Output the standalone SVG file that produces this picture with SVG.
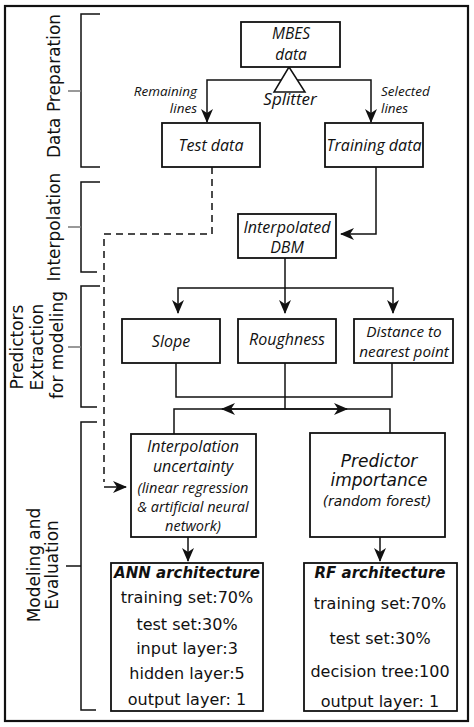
<svg xmlns="http://www.w3.org/2000/svg" width="474" height="727" viewBox="0 0 474 727">
<style>
.box{fill:#fff;stroke:#111;stroke-width:1.8}
.ln{fill:none;stroke:#111;stroke-width:1.5}
.dash{fill:none;stroke:#111;stroke-width:1.5;stroke-dasharray:7,5}
.br{fill:none;stroke:#111;stroke-width:1.5}
.tick{fill:none;stroke:#777;stroke-width:1.5}
.it{font-family:"Open Sans","DejaVu Sans",sans-serif;font-style:italic;fill:#111;text-anchor:middle}
.ob{font-family:"DejaVu Sans","Verdana",sans-serif;font-style:italic;fill:#111;text-anchor:middle}
.rg{font-family:"DejaVu Sans","Verdana",sans-serif;fill:#111;text-anchor:middle}
.lab{font-family:"DejaVu Sans","Verdana",sans-serif;fill:#111;text-anchor:middle;font-size:17px}
</style>
<defs>
<marker id="ah" viewBox="0 0 14 12" refX="13" refY="6" markerWidth="14" markerHeight="12" markerUnits="userSpaceOnUse" orient="auto">
<path d="M0,0 L14,6 L0,12 L4,6 Z" fill="#111"/>
</marker>
</defs>
<rect x="5" y="6" width="463" height="715" fill="#fff" stroke="#111" stroke-width="2.2"/>

<g id="brackets">
<path class="br" d="M100,14 H81 V167 H100"/>
<path class="tick" d="M68,91 H81"/>
<path class="br" d="M100,182 H81 V272 H97"/>
<path class="tick" d="M68,227 H81"/>
<path class="br" d="M100,286 H81 V407 H97"/>
<path class="tick" d="M68,347 H81"/>
<path class="br" d="M97,422 H81 V710 H96" stroke-width="2"/>
<path class="br" d="M66,566 H81" stroke-width="2"/>
</g>

<g id="stage-labels">
<text class="lab" transform="translate(60,86) rotate(-90)">Data Preparation</text>
<text class="lab" transform="translate(60,227) rotate(-90)">Interpolation</text>
<text class="lab" transform="translate(23,347) rotate(-90)">Predictors</text>
<text class="lab" transform="translate(43,347) rotate(-90)">Extraction</text>
<text class="lab" transform="translate(63,345) rotate(-90)">for modeling</text>
<text class="lab" transform="translate(40,565) rotate(-90)">Modeling and</text>
<text class="lab" transform="translate(58,565) rotate(-90)">Evaluation</text>
</g>

<g id="connectors">
<path class="ln" d="M289,80 H207 V122" marker-end="url(#ah)"/>
<path class="ln" d="M289,80 H371 V122" marker-end="url(#ah)"/>
<path class="ln" d="M376,167 V234 H341" marker-end="url(#ah)"/>
<path class="dash" d="M212,167 V234 H104 V482"/>
<path class="ln" d="M104,487 H126" marker-end="url(#ah)"/>
<path class="ln" d="M285,258 V313" marker-end="url(#ah)"/>
<path class="ln" d="M285,288 H178 V313" marker-end="url(#ah)"/>
<path class="ln" d="M285,288 H393 V313" marker-end="url(#ah)"/>
<path class="ln" d="M176,363 V397 H392 V363"/>
<path class="ln" d="M285,363 V409"/>
<path class="ln" d="M174,434 V409 H390 V433"/>
<path class="ln" d="M285,409 H222" marker-end="url(#ah)"/>
<path class="ln" d="M285,409 H347" marker-end="url(#ah)"/>
<path class="ln" d="M188,537 V561" marker-end="url(#ah)"/>
<path class="ln" d="M380,537 V561" marker-end="url(#ah)"/>
</g>

<g id="splitter">
<polygon points="289,67 274,92 305,92" fill="#fff" stroke="#111" stroke-width="1.5"/>
<text class="it" x="290" y="105" font-size="17">Splitter</text>
</g>
<g id="edge-labels">
<text class="it" x="197" y="96" font-size="13.5" style="text-anchor:end">Remaining</text>
<text class="it" x="197" y="113" font-size="13.5" style="text-anchor:end">lines</text>
<text class="it" x="381" y="96" font-size="13.5" style="text-anchor:start">Selected</text>
<text class="it" x="381" y="113" font-size="13.5" style="text-anchor:start">lines</text>
</g>

<g id="mbes">
<rect class="box" x="241" y="22" width="99" height="45"/>
<text class="it" x="291" y="39" font-size="15.5">MBES</text>
<text class="it" x="291" y="60" font-size="15.5">data</text>
</g>
<g id="test-data">
<rect class="box" x="162" y="123" width="98" height="44"/>
<text class="it" x="211" y="151" font-size="16">Test data</text>
</g>
<g id="training-data">
<rect class="box" x="325" y="123" width="98" height="44"/>
<text class="it" x="374" y="151" font-size="16">Training data</text>
</g>
<g id="interpolated-dbm">
<rect class="box" x="238" y="214" width="98" height="44"/>
<text class="it" x="287" y="233" font-size="16">Interpolated</text>
<text class="it" x="287" y="253" font-size="16">DBM</text>
</g>
<g id="slope">
<rect class="box" x="122" y="319" width="98" height="44"/>
<text class="it" x="171" y="347" font-size="16">Slope</text>
</g>
<g id="roughness">
<rect class="box" x="238" y="319" width="98" height="44"/>
<text class="it" x="287" y="345" font-size="16">Roughness</text>
</g>
<g id="distance">
<rect class="box" x="354" y="319" width="99" height="44"/>
<text class="it" x="404" y="337" font-size="15.3">Distance to</text>
<text class="it" x="404" y="357" font-size="15.3">nearest point</text>
</g>
<g id="interp-uncertainty">
<rect class="box" x="131" y="434" width="125" height="103"/>
<text class="it" x="193" y="452" font-size="16">Interpolation</text>
<text class="it" x="193" y="472" font-size="16">uncertainty</text>
<text class="it" x="193" y="493" font-size="14.5">(linear regression</text>
<text class="it" x="193" y="512" font-size="14.5">&amp; artificial neural</text>
<text class="it" x="193" y="531" font-size="14.5">network)</text>
</g>
<g id="predictor-importance">
<rect class="box" x="310" y="433" width="135" height="104"/>
<text class="ob" x="379" y="467" font-size="17">Predictor</text>
<text class="ob" x="379" y="486" font-size="17">importance</text>
<text class="ob" x="377" y="506" font-size="13.8">(random forest)</text>
</g>
<g id="ann">
<rect class="box" x="111" y="563" width="152" height="148"/>
<text class="rg" x="187" y="578" font-size="15" font-weight="bold" font-style="italic">ANN architecture</text>
<text class="rg" x="187" y="603" font-size="16">training set:70%</text>
<text class="rg" x="187" y="630" font-size="16">test set:30%</text>
<text class="rg" x="187" y="654" font-size="16">input layer:3</text>
<text class="rg" x="187" y="679" font-size="16">hidden layer:5</text>
<text class="rg" x="187" y="705" font-size="16">output layer: 1</text>
</g>
<g id="rf">
<rect class="box" x="304" y="563" width="153" height="148"/>
<text class="rg" x="380" y="578" font-size="15" font-weight="bold" font-style="italic">RF architecture</text>
<text class="rg" x="380" y="609" font-size="16">training set:70%</text>
<text class="rg" x="380" y="644" font-size="16">test set:30%</text>
<text class="rg" x="380" y="677" font-size="16">decision tree:100</text>
<text class="rg" x="380" y="707" font-size="16">output layer: 1</text>
</g>
</svg>
